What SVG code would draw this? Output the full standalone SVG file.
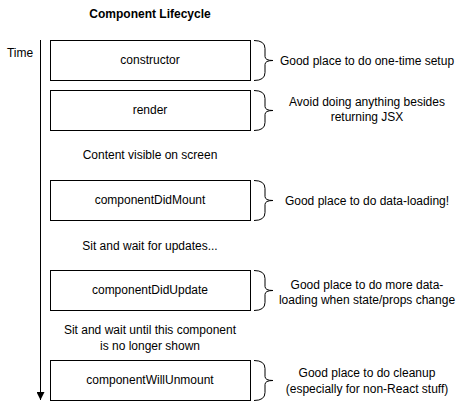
<svg xmlns="http://www.w3.org/2000/svg" width="462" height="409" viewBox="0 0 462 409">
<style>
text{font-family:"Liberation Sans",Arial,sans-serif;font-size:12px;fill:#000;text-anchor:middle;dominant-baseline:central}
.title{font-weight:bold}
.box{fill:#fff;stroke:#000;stroke-width:1}
.brace{fill:none;stroke:#000;stroke-width:1}
</style>
<defs>
<marker id="ah" viewBox="0 0 10 10" refX="10" refY="5" markerWidth="8" markerHeight="8" markerUnits="userSpaceOnUse" orient="auto">
<path d="M0,0 L10,5 L0,10 z" fill="#000"/>
</marker>
<path id="br" d="M0,0 Q11,0 11,8 L11,16 Q11,20 19,20 Q11,20 11,24 L11,32 Q11,40 0,40"/>
</defs>
<rect width="462" height="409" fill="#fff"/>
<g id="title"><text class="title" x="150" y="14">Component Lifecycle</text></g>
<g id="time"><text x="20" y="53">Time</text></g>
<g id="connectors">
<line x1="40.5" y1="40" x2="40.5" y2="400" stroke="#000" stroke-width="1" marker-end="url(#ah)"/>
</g>
<g id="constructor">
<rect class="box" x="50.5" y="40.5" width="200" height="40"/>
<text x="150" y="60">constructor</text>
<use href="#br" class="brace" x="254" y="40.5"/>
<text x="367" y="61">Good place to do one-time setup</text>
</g>
<g id="render">
<rect class="box" x="50.5" y="90.5" width="200" height="40"/>
<text x="150" y="110">render</text>
<use href="#br" class="brace" x="254" y="90.5"/>
<text x="367" y="102">Avoid doing anything besides</text>
<text x="367" y="117">returning JSX</text>
</g>
<g id="visible"><text x="150" y="155">Content visible on screen</text></g>
<g id="componentDidMount">
<rect class="box" x="50.5" y="180.5" width="200" height="40"/>
<text x="150" y="200">componentDidMount</text>
<use href="#br" class="brace" x="254" y="180.5"/>
<text x="367" y="201">Good place to do data-loading!</text>
</g>
<g id="wait1"><text x="150" y="246">Sit and wait for updates...</text></g>
<g id="componentDidUpdate">
<rect class="box" x="50.5" y="270.5" width="200" height="40"/>
<text x="150" y="290">componentDidUpdate</text>
<use href="#br" class="brace" x="254" y="270.5"/>
<text x="367" y="285">Good place to do more data-</text>
<text x="367" y="300">loading when state/props change</text>
</g>
<g id="wait2">
<text x="150" y="330">Sit and wait until this component</text>
<text x="150" y="346">is no longer shown</text>
</g>
<g id="componentWillUnmount">
<rect class="box" x="50.5" y="360.5" width="200" height="40"/>
<text x="150" y="380">componentWillUnmount</text>
<use href="#br" class="brace" x="254" y="360.5"/>
<text x="367" y="373">Good place to do cleanup</text>
<text x="367" y="389">(especially for non-React stuff)</text>
</g>
</svg>
